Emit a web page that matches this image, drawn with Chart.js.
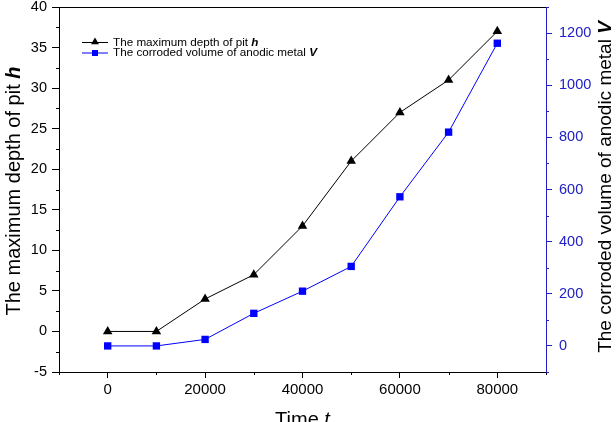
<!DOCTYPE html>
<html>
<head>
<meta charset="utf-8">
<script src="https://cdn.jsdelivr.net/npm/chart.js@4.4.0/dist/chart.umd.min.js"></script>
<style>
  html, body { margin: 0; padding: 0; background: #fff; }
  canvas { display: block; }
</style>
</head>
<body>
<canvas id="canvas" width="616" height="422"></canvas>
<script>
// data
const times = [0, 10000, 20000, 30000, 40000, 50000, 60000, 70000, 80000];
const depthH = [0, 0, 4, 7, 13, 21, 27, 31, 37];
const volumeV = [0, 0, 25, 125, 210, 305, 572, 820, 1161];

// tick values
const xTicks = [0, 20000, 40000, 60000, 80000];
const xMinor = [-10000, 10000, 30000, 50000, 70000, 90000];
const hTicks = [-5, 0, 5, 10, 15, 20, 25, 30, 35, 40];
const hMinor = [-2.5, 2.5, 7.5, 12.5, 17.5, 22.5, 27.5, 32.5, 37.5];
const vTicks = [0, 200, 400, 600, 800, 1000, 1200];
const vMinor = [-100, 100, 300, 500, 700, 900, 1100, 1300];

const FONT = "'Liberation Sans', Arial, Helvetica, sans-serif";
const BLUE = '#2020c8';

const canvas = document.getElementById('canvas');
const ctx = canvas.getContext('2d');

function drawParts(c, parts, x, y, angle, baseline) {
    c.save();
    c.translate(x, y);
    c.rotate(angle);
    let total = 0;
    parts.forEach(p => {
        c.font = p.font;
        p.w = c.measureText(p.text).width;
        total += p.w;
    });
    let cx = -total / 2;
    c.textAlign = 'left';
    c.textBaseline = baseline || 'middle';
    c.fillStyle = '#000';
    parts.forEach(p => {
        c.font = p.font;
        c.fillText(p.text, cx, 0);
        cx += p.w;
    });
    c.restore();
}

function drawMinor(c, scale, values, len, color) {
    const area = scale.chart.chartArea;
    c.save();
    c.strokeStyle = color;
    c.lineWidth = 1;
    c.beginPath();
    values.forEach(v => {
        const p = Math.round(scale.getPixelForValue(v)) + 0.5;
        if (scale.axis === 'x') {
            c.moveTo(p, area.bottom);
            c.lineTo(p, area.bottom + len);
        } else if (scale.position === 'left') {
            c.moveTo(area.left, p);
            c.lineTo(area.left - len, p);
        } else {
            c.moveTo(area.right, p);
            c.lineTo(area.right + len, p);
        }
    });
    c.stroke();
    c.restore();
}

function triangle(c, x, y, r) {
    c.beginPath();
    c.moveTo(x, y - r);
    c.lineTo(x + r * 0.866, y + r * 0.5);
    c.lineTo(x - r * 0.866, y + r * 0.5);
    c.closePath();
    c.fill();
}

const extras = {
    id: 'extras',
    afterDraw(chart) {
        const c = chart.ctx;
        const a = chart.chartArea;

        // top frame line
        c.save();
        c.strokeStyle = '#000';
        c.lineWidth = 1;
        c.beginPath();
        c.moveTo(a.left, Math.round(a.top) + 0.5);
        c.lineTo(a.right, Math.round(a.top) + 0.5);
        c.stroke();
        c.restore();

        drawMinor(c, chart.scales.x, xMinor, 3, '#000');
        drawMinor(c, chart.scales.y, hMinor, 3, '#000');
        drawMinor(c, chart.scales.y1, vMinor, 3, BLUE);

        // axis titles
        drawParts(c, [
            { text: 'The maximum depth of pit ', font: '20px ' + FONT },
            { text: 'h', font: 'italic bold 20px ' + FONT }
        ], 14, 191, -Math.PI / 2);
        drawParts(c, [
            { text: 'The corroded volume of anodic metal ', font: '19px ' + FONT },
            { text: 'V', font: 'italic bold 19px ' + FONT }
        ], 606, 187, -Math.PI / 2);
        drawParts(c, [
            { text: 'Time ', font: '20px ' + FONT },
            { text: 't', font: 'italic 20px ' + FONT }
        ], 302.5, 426, 0, 'alphabetic');

        // legend
        const rows = [
            { y: 42.5, color: '#000', shape: 'tri', parts: ['The maximum depth of pit ', 'h'] },
            { y: 53, color: '#0000ff', shape: 'rect', parts: ['The corroded volume of anodic metal ', 'V'] }
        ];
        rows.forEach(r => {
            c.save();
            c.strokeStyle = r.color;
            c.fillStyle = r.color;
            c.lineWidth = 1;
            c.beginPath();
            c.moveTo(82, r.y);
            c.lineTo(108, r.y);
            c.stroke();
            if (r.shape === 'tri') {
                triangle(c, 95, r.y - 0.5, 4.6);
            } else {
                c.fillRect(92, r.y - 3, 6, 6);
            }
            c.fillStyle = '#000';
            c.textBaseline = 'middle';
            c.font = '11.7px ' + FONT;
            c.fillText(r.parts[0], 113, r.y);
            const w = c.measureText(r.parts[0]).width;
            c.font = 'italic bold 11.7px ' + FONT;
            c.fillText(r.parts[1], 113 + w, r.y);
            c.restore();
        });
    }
};

function noPad(scale) {
    scale.paddingTop = 0;
    scale.paddingBottom = 0;
    scale.paddingLeft = 0;
    scale.paddingRight = 0;
}

const plain = v => String(v);

const chart = new Chart(ctx, {
    type: 'line',
    data: {
        datasets: [
            {
                label: 'h',
                data: times.map((t, i) => ({ x: t, y: depthH[i] })),
                yAxisID: 'y',
                borderColor: '#000',
                backgroundColor: '#000',
                borderWidth: 1,
                pointStyle: 'triangle',
                pointRadius: 5.5,
                pointBorderWidth: 0,
                tension: 0
            },
            {
                label: 'V',
                data: times.map((t, i) => ({ x: t, y: volumeV[i] })),
                yAxisID: 'y1',
                borderColor: '#0000ff',
                backgroundColor: '#0000ff',
                borderWidth: 1,
                pointStyle: 'rect',
                pointRadius: 5.2,
                pointBorderWidth: 0,
                tension: 0
            }
        ]
    },
    options: {
        responsive: false,
        animation: false,
        devicePixelRatio: 1,
        layout: { padding: { top: 7, left: 0, right: 0, bottom: 0 } },
        plugins: {
            legend: { display: false },
            tooltip: { enabled: false }
        },
        scales: {
            x: {
                type: 'linear',
                min: -10000,
                max: 90000,
                afterBuildTicks: s => { s.ticks = xTicks.map(v => ({ value: v })); },
                afterFit: s => { s.height = 50; noPad(s); },
                grid: { drawOnChartArea: false, drawTicks: true, tickLength: 6, color: '#000' },
                border: { display: true, color: '#000', width: 1 },
                ticks: {
                    color: '#000',
                    padding: 3,
                    maxRotation: 0,
                    autoSkip: false,
                    callback: plain,
                    font: { family: FONT, size: 15 }
                }
            },
            y: {
                type: 'linear',
                position: 'left',
                min: -5,
                max: 40,
                afterBuildTicks: s => { s.ticks = hTicks.map(v => ({ value: v })); },
                afterFit: s => { s.width = 59; noPad(s); },
                grid: { drawOnChartArea: false, drawTicks: true, tickLength: 7, color: '#000' },
                border: { display: true, color: '#000', width: 1 },
                ticks: {
                    color: '#000',
                    padding: 5,
                    autoSkip: false,
                    callback: plain,
                    font: { family: FONT, size: 14.5 }
                }
            },
            y1: {
                type: 'linear',
                position: 'right',
                min: -100,
                max: 1300,
                afterBuildTicks: s => { s.ticks = vTicks.map(v => ({ value: v })); },
                afterFit: s => { s.width = 70; noPad(s); },
                grid: { drawOnChartArea: false, drawTicks: true, tickLength: 6, color: BLUE },
                border: { display: true, color: BLUE, width: 1 },
                ticks: {
                    color: BLUE,
                    padding: 7,
                    autoSkip: false,
                    callback: plain,
                    font: { family: FONT, size: 14.5 }
                }
            }
        }
    },
    plugins: [extras]
});
</script>
</body>
</html>
